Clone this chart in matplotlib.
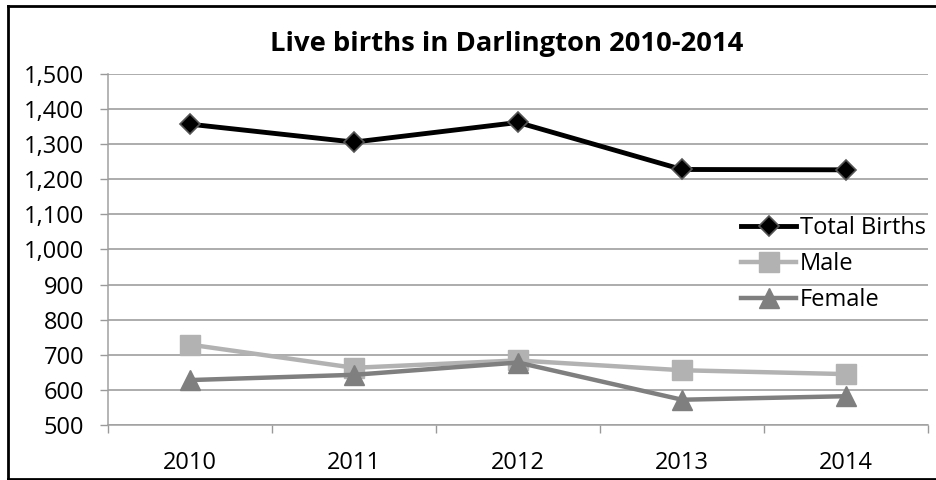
import matplotlib.pyplot as plt
import numpy as np
from matplotlib.lines import Line2D
from matplotlib.ticker import FuncFormatter

years = ["2010", "2011", "2012", "2013", "2014"]
total_births = [1357, 1306, 1362, 1228, 1227]
male = [729, 663, 684, 656, 645]
female = [628, 643, 678, 572, 582]

plt.rcParams['font.family'] = ['Open Sans', 'DejaVu Sans']

W, H = 937, 480
fig = plt.figure(figsize=(W / 100, H / 100), dpi=100)
ax = fig.add_axes([108 / W, 1 - 425 / H, (928 - 108) / W, (425 - 74) / H])

x = np.arange(len(years))
ax.plot(x, total_births, color='black', lw=3.5, marker='D', markersize=10,
        markerfacecolor='black', markeredgecolor='#555555', markeredgewidth=1.2,
        label='Total Births', zorder=5)
ax.plot(x, male, color='#b2b2b2', lw=3.2, marker='s', markersize=14.5,
        markerfacecolor='#b2b2b2', markeredgecolor='#b2b2b2', label='Male', zorder=4)
ax.plot(x, female, color='#7f7f7f', lw=3.2, marker='^', markersize=14.5,
        markerfacecolor='#7f7f7f', markeredgecolor='#7f7f7f', label='Female', zorder=4)

ax.set_xlim(-0.5, len(years) - 0.5)
ax.set_ylim(500, 1500)
ax.set_yticks(np.arange(500, 1501, 100))
ax.yaxis.set_major_formatter(FuncFormatter(lambda v, _: f"{v:,.0f}"))
ax.grid(axis='y', color='#969696', lw=1.1)
ax.set_axisbelow(True)

ax.set_xticks(x)
ax.set_xticklabels(years)
ax.set_xticks(np.arange(-0.5, len(years), 1), minor=True)
ax.tick_params(axis='x', which='major', length=0, pad=19, labelsize=17)
ax.tick_params(axis='x', which='minor', length=6, width=1, color='#999999', direction='out')
ax.tick_params(axis='y', length=6, width=1, color='#999999', pad=11, labelsize=17)

for side in ['top', 'right']:
    ax.spines[side].set_visible(False)
for side in ['left', 'bottom']:
    ax.spines[side].set_color('#a0a0a0')
    ax.spines[side].set_linewidth(1.1)

ax.legend(loc='center left', bbox_to_anchor=(741 / W, 1 - 264 / H),
          bbox_transform=fig.transFigure, frameon=False, fontsize=17,
          handlelength=2.35, handletextpad=0.15, borderpad=0, borderaxespad=0,
          labelspacing=0.5)

fig.text(507 / W, 1 - 44 / H, "Live births in Darlington 2010-2014",
         ha='center', va='center', fontsize=19.7, fontweight='bold')

# outer frame (right edge falls outside the canvas)
for xs, ys in [((8 / W, 8 / W), (1 - 6 / H, 1 - 479 / H)),
               ((8 / W, 1.0), (1 - 6 / H, 1 - 6 / H)),
               ((8 / W, 1.0), (1 - 479 / H, 1 - 479 / H))]:
    fig.add_artist(Line2D(xs, ys, transform=fig.transFigure, color='black', lw=2))

fig.savefig("out.png", dpi=100)
